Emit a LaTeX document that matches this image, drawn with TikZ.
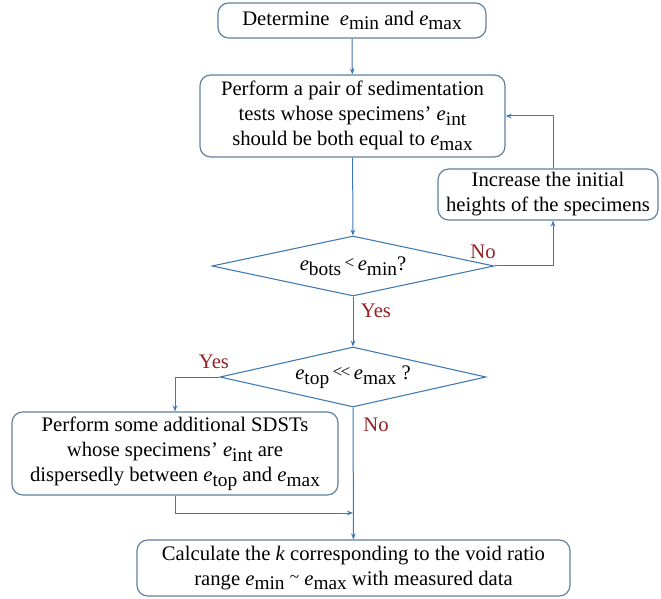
\documentclass[tikz,border=0pt]{standalone}
\usepackage{fontspec}
\setmainfont{Liberation Serif}
\usetikzlibrary{arrows.meta,shapes.geometric}
\definecolor{boxline}{RGB}{96,128,160}
\definecolor{flowline}{RGB}{62,120,178}
\definecolor{answer}{RGB}{150,32,36}
\newcommand{\ev}[1]{\textit{e}\raisebox{-0.5ex}{\fontsize{14.5}{14.5}\selectfont #1}}
\newcommand{\rel}[1]{\raisebox{0.25ex}{\fontsize{13}{13}\selectfont #1}}

\begin{document}
\begin{tikzpicture}[x=0.75pt, y=-0.75pt,
	every node/.style={font=\fontsize{15.5}{18.75}\selectfont},
	stepbox/.style={draw=boxline, line width=0.9pt, rounded corners=8pt, align=center, inner sep=0pt},
	choice/.style={draw=flowline, line width=0.8pt, diamond, aspect=4.5, inner sep=0pt, align=center},
	answer/.style={text=answer},
	flow/.style={draw=flowline, line width=0.75pt, -{Stealth[length=4.5pt, width=3.5pt]}}]
			%%%%% START %%%%%
			
			\useasboundingbox (0, 0) rectangle (661, 599);
			
			\node[stepbox, minimum width=201pt, minimum height=26.25pt] (determine) at (352, 20.5) {Determine \ \ev{min} and \ev{max}};
			\node[stepbox, minimum width=228.75pt, minimum height=61.5pt] (pair) at (352.5, 116) {Perform a pair of sedimentation\\tests whose specimens' \ev{int}\\should be both equal to \ev{max}};
			\node[stepbox, minimum width=165pt, minimum height=38.25pt] (increase) at (548, 194.5) {Increase the initial\\heights of the specimens};
			\node[choice, minimum width=211.5pt, minimum height=45pt] (bots) at (353, 266) {\ev{bots}\,\rel{<}\,\ev{min}?};
			\node[choice, minimum width=199.5pt, minimum height=45pt] (top) at (353, 377) {\ev{top}\,\rel{<\kern-0.1em<}\,\ev{max} ?};
			\node[stepbox, minimum width=244.5pt, minimum height=62.25pt] (extra) at (175, 453.5) {Perform some additional SDSTs\\whose specimens' \ev{int} are\\dispersedly between \ev{top} and \ev{max}};
			\node[stepbox, minimum width=324.75pt, minimum height=42pt] (calc) at (353.5, 568) {Calculate the \textit{k} corresponding to the void ratio\\range \ev{min} \rel{\textasciitilde} \ev{max} with measured data};
			
			\coordinate (loop) at (553, 0);
			\coordinate (merge) at (353, 513);
			
			\node[answer] (no1) at (483, 252) {No};
			\node[answer] (yes1) at (376, 311) {Yes};
			\node[answer] (yes2) at (214, 362) {Yes};
			\node[answer] (no2) at (376, 425) {No};
			
			\draw[flow] (determine) -- (pair);
			\draw[flow] (pair) -- (bots);
			\draw[flow] (bots.east) -| (loop |- increase.south);
			\draw[flow] (loop |- increase.north) |- (pair.east);
			\draw[flow] (bots) -- (top);
			\draw[flow] (top.west) -| (extra.north);
			\draw[flow] (extra.south) |- (merge);
			\draw[flow] (top) -- (calc);
			
			%%%%% END %%%%%
		\end{tikzpicture}
\end{document}
